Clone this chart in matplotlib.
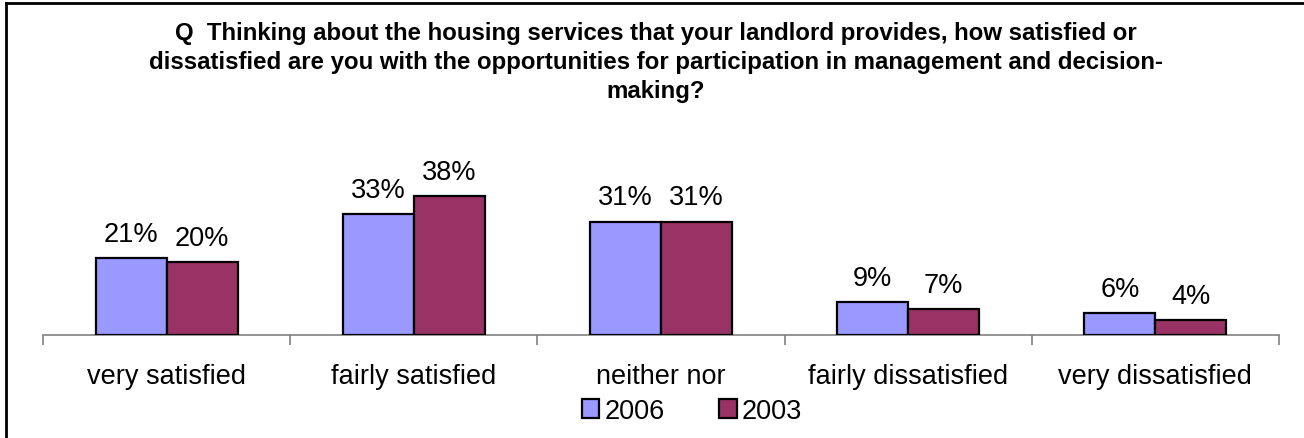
import matplotlib
matplotlib.use("Agg")
import matplotlib.pyplot as plt
from matplotlib.lines import Line2D
from matplotlib.patches import Patch
import numpy as np

plt.rcParams['font.family'] = ['Liberation Sans', 'DejaVu Sans']

categories = ["very satisfied", "fairly satisfied", "neither nor",
              "fairly dissatisfied", "very dissatisfied"]
series_names = ["2006", "2003"]
values_2006 = [21, 33, 31, 9, 6]
values_2003 = [20, 38, 31, 7, 4]
colors = ["#9999FF", "#993366"]

title = ("Q  Thinking about the housing services that your landlord provides, how satisfied or\n"
         "dissatisfied are you with the opportunities for participation in management and decision-\n"
         "making?")

W, H = 1304, 439
fs = 19.5
fig = plt.figure(figsize=(W / 100, H / 100), dpi=100)
ax = fig.add_axes([43 / W, 103 / H, (1279 - 43) / W, 183 / H])

x = np.arange(len(categories))
bw = 0.287
for vals, off, col in [(values_2006, -bw / 2, colors[0]), (values_2003, bw / 2, colors[1])]:
    bars = ax.bar(x + off, vals, width=bw, color=col, edgecolor="black", linewidth=1.6, zorder=3)
    for b, v in zip(bars, vals):
        ax.annotate(f"{v}%", (b.get_x() + b.get_width() / 2, v), xytext=(0, 8),
                    textcoords="offset points", ha="center", va="bottom", fontsize=fs)

ax.set_xlim(-0.5, len(categories) - 0.5)
ax.set_ylim(0, 50)
for s in ["left", "right", "top"]:
    ax.spines[s].set_visible(False)
ax.spines["bottom"].set_color("#808080")
ax.spines["bottom"].set_linewidth(1.2)
ax.set_yticks([])
ax.set_xticks(np.arange(len(categories) + 1) - 0.5)
ax.set_xticklabels([])
ax.tick_params(axis="x", which="major", length=7, width=1.2, color="#808080", direction="out")
ax.set_xticks(x, minor=True)
ax.set_xticklabels(categories, minor=True, fontsize=fs)
ax.tick_params(axis="x", which="minor", length=0, pad=20)

fig.text(656 / W, 1 - 22 / H, title, ha="center", va="top", fontsize=17.3,
         fontweight="bold", linespacing=1.32)

handles = [Patch(facecolor=c, edgecolor="black", linewidth=1.6) for c in colors]
fig.legend(handles, series_names, loc="center", bbox_to_anchor=(692 / W, 1 - 412 / H),
           ncol=2, frameon=False, fontsize=fs, handlelength=0.65, handleheight=0.65,
           handletextpad=0.2, columnspacing=2.0, borderpad=0)

# frame lines along the top and left edges
fig.add_artist(Line2D([5.5 / W, 5.5 / W], [0, 1 - 3.5 / H], transform=fig.transFigure,
                      color="black", linewidth=2))
fig.add_artist(Line2D([5.5 / W, 1], [1 - 3.5 / H, 1 - 3.5 / H], transform=fig.transFigure,
                      color="black", linewidth=2))

fig.savefig("out.png", dpi=100)
